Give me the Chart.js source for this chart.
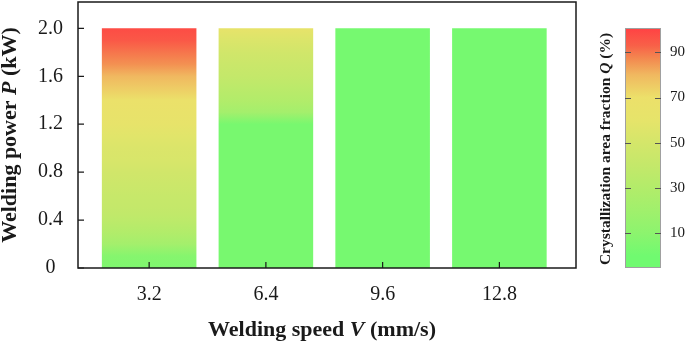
<!DOCTYPE html>
<html>
<head>
<meta charset="utf-8">
<script src="https://cdn.jsdelivr.net/npm/chart.js@4.4.1/dist/chart.umd.min.js"></script>
<style>
  html, body { margin: 0; padding: 0; background: #fff; }
  #wrap { position: relative; width: 685px; height: 341px; }
  #main { position: absolute; left: 0; top: 0; width: 590px; height: 341px; }
  #bar { position: absolute; left: 596px; top: 0; width: 89px; height: 341px; }
</style>
</head>
<body>
<div id="wrap">
  <div id="main"><canvas id="mainChart"></canvas></div>
  <div id="bar"><canvas id="barChart"></canvas></div>
</div>
<script>
// welding speed (mm/s) and top of each bar (kW)
const speeds = [3.2, 6.4, 9.6, 12.8];
const powerTop = [2.0, 2.0, 2.0, 2.0];

// crystallization fraction Q (%), at these powers
const powerLevels = [0, 0.1, 0.2, 0.3, 0.4, 0.5, 0.6, 0.7, 0.8, 0.9, 1.0,
                     1.1, 1.2, 1.3, 1.4, 1.5, 1.6, 1.7, 1.8, 1.9, 2.0];
const qAt3_2  = [5, 8, 22, 30, 36, 40, 42, 45, 48, 52, 54, 57, 62, 65, 68, 75, 80, 86, 90, 95, 98];
const qAt6_4  = [3, 3, 3, 3, 3, 3, 3, 3, 3, 3, 3, 3, 3, 22, 30, 35, 40, 44, 48, 54, 62];
const qAt9_6  = [2, 2, 2, 2, 2, 2, 2, 2, 2, 2, 2, 2, 2, 2, 2, 2, 2, 2, 2, 2, 2];
const qAt12_8 = [2, 2, 2, 2, 2, 2, 2, 2, 2, 2, 2, 2, 2, 2, 2, 2, 2, 2, 2, 2, 2];
const qProfiles = [qAt3_2, qAt6_4, qAt9_6, qAt12_8];

const powerTicks = [0, 0.4, 0.8, 1.2, 1.6, 2.0];
const qTicks = [10, 30, 50, 70, 90];
const qRange = [-5.3, 100.7];

// colour map green -> yellow -> red
const cmapQ = [0, 10, 20, 30, 40, 50, 60, 70, 80, 87, 93, 100];
const cmapRGB = [
  [112, 250, 112], [140, 244, 110], [160, 240, 108], [178, 236, 106],
  [196, 232, 106], [212, 230, 106], [230, 228, 106], [236, 224, 106],
  [240, 184, 96], [243, 138, 80], [248, 96, 72], [255, 68, 68]
];

const SERIF = '"Liberation Serif", "Times New Roman", serif';
const INK = '#1a1a1a';

function qColor(q) {
  if (q <= cmapQ[0]) return 'rgb(' + cmapRGB[0].join(',') + ')';
  for (let i = 1; i < cmapQ.length; i++) {
    if (q <= cmapQ[i]) {
      const t = (q - cmapQ[i - 1]) / (cmapQ[i] - cmapQ[i - 1]);
      const a = cmapRGB[i - 1], b = cmapRGB[i];
      return 'rgb(' + a.map((v, k) => Math.round(v + (b[k] - v) * t)).join(',') + ')';
    }
  }
  return 'rgb(' + cmapRGB[cmapRGB.length - 1].join(',') + ')';
}

function drawRich(ctx, parts, x, y, angle, size, baseline) {
  ctx.save();
  ctx.translate(x, y);
  ctx.rotate(angle);
  ctx.textBaseline = baseline;
  ctx.textAlign = 'left';
  ctx.fillStyle = INK;
  const fonts = parts.map(p => (p.italic ? 'italic ' : '') + 'bold ' + size + 'px ' + SERIF);
  let total = 0;
  const widths = parts.map((p, i) => {
    ctx.font = fonts[i];
    const w = ctx.measureText(p.text).width;
    total += w;
    return w;
  });
  let cx = -total / 2;
  parts.forEach((p, i) => {
    ctx.font = fonts[i];
    ctx.fillText(p.text, cx, 0);
    cx += widths[i];
  });
  ctx.restore();
}

function barGradient(c) {
  const chart = c.chart;
  if (!chart.chartArea || c.dataIndex === undefined) return qColor(0);
  const y = chart.scales.y;
  const levels = qProfiles[c.dataIndex];
  const yBottom = y.getPixelForValue(powerLevels[0]);
  const yTop = y.getPixelForValue(powerTop[c.dataIndex]);
  const g = chart.ctx.createLinearGradient(0, yBottom, 0, yTop);
  powerLevels.forEach((p, k) => {
    const off = (yBottom - y.getPixelForValue(p)) / (yBottom - yTop);
    g.addColorStop(Math.min(1, Math.max(0, off)), qColor(levels[k]));
  });
  return g;
}

function colorbarGradient(c) {
  const chart = c.chart;
  if (!chart.chartArea) return qColor(0);
  const y = chart.scales.y;
  const y0 = y.getPixelForValue(qRange[0]);
  const y1 = y.getPixelForValue(qRange[1]);
  const g = chart.ctx.createLinearGradient(0, y0, 0, y1);
  g.addColorStop(0, qColor(qRange[0]));
  cmapQ.forEach(q => {
    const off = (y0 - y.getPixelForValue(q)) / (y0 - y1);
    g.addColorStop(Math.min(1, Math.max(0, off)), qColor(q));
  });
  g.addColorStop(1, qColor(qRange[1]));
  return g;
}

const framePlugin = {
  id: 'frame',
  afterDraw(chart) {
    const { ctx, chartArea: a, scales } = chart;
    ctx.save();
    ctx.strokeStyle = INK;
    ctx.lineWidth = 1.5;
    ctx.strokeRect(a.left, a.top, a.right - a.left, a.bottom - a.top);
    ctx.lineWidth = 1.2;
    ctx.beginPath();
    scales.x.ticks.forEach(t => {
      const px = scales.x.getPixelForValue(t.value);
      ctx.moveTo(px, a.bottom);
      ctx.lineTo(px, a.bottom - 6);
    });
    scales.y.ticks.forEach(t => {
      const py = scales.y.getPixelForValue(t.value);
      ctx.moveTo(a.left, py);
      ctx.lineTo(a.left + 6, py);
    });
    ctx.stroke();
    ctx.restore();

    drawRich(ctx, [{ text: 'Welding power ' }, { text: 'P', italic: true }, { text: ' (kW)' }],
      10, (a.top + a.bottom) / 2, -Math.PI / 2, 22, 'middle');
    drawRich(ctx, [{ text: 'Welding speed ' }, { text: 'V', italic: true }, { text: ' (mm/s)' }],
      (a.left + a.right) / 2 - 5, 336, 0, 22, 'alphabetic');
  }
};

const colorbarPlugin = {
  id: 'colorbarFrame',
  afterDraw(chart) {
    const { ctx, chartArea: a, scales } = chart;
    ctx.save();
    ctx.strokeStyle = '#a0a0a0';
    ctx.lineWidth = 1;
    ctx.strokeRect(a.left + 0.5, a.top + 0.5, a.right - a.left - 1, a.bottom - a.top - 1);
    ctx.strokeStyle = '#555';
    ctx.beginPath();
    scales.y.ticks.forEach(t => {
      const py = Math.round(scales.y.getPixelForValue(t.value)) + 0.5;
      ctx.moveTo(a.left, py);
      ctx.lineTo(a.left + 6, py);
      ctx.moveTo(a.right, py);
      ctx.lineTo(a.right - 6, py);
    });
    ctx.stroke();
    ctx.restore();

    drawRich(ctx, [{ text: 'Crystallization area fraction ' }, { text: 'Q', italic: true }, { text: ' (%)' }],
      10, 149, -Math.PI / 2, 15.5, 'middle');
  }
};

// drop the extra room Chart.js keeps for half tick labels at the ends
function noEndPadding(s) {
  s.paddingTop = 0;
  s.paddingBottom = 0;
  s.paddingLeft = 0;
  s.paddingRight = 0;
}

Chart.defaults.font.family = SERIF;
Chart.defaults.color = INK;

new Chart(document.getElementById('mainChart'), {
  type: 'bar',
  data: {
    datasets: [{
      data: speeds.map((v, i) => ({ x: v, y: powerTop[i] })),
      backgroundColor: barGradient,
      borderWidth: 0,
      barPercentage: 0.81,
      categoryPercentage: 1
    }]
  },
  options: {
    responsive: true,
    maintainAspectRatio: false,
    animation: false,
    layout: { padding: { top: 2, right: 14, left: 0, bottom: 0 } },
    plugins: { legend: { display: false }, tooltip: { enabled: false } },
    scales: {
      x: {
        type: 'linear',
        min: 1.25,
        max: 14.9,
        offset: false,
        grid: { display: false, drawTicks: false },
        border: { display: false },
        afterBuildTicks: s => { s.ticks = speeds.map(v => ({ value: v })); },
        afterFit: s => { s.height = 73; noEndPadding(s); },
        ticks: { font: { size: 20 }, padding: 15, maxRotation: 0, callback: v => v.toFixed(1) }
      },
      y: {
        min: 0,
        max: 2.22,
        grid: { display: false, drawTicks: false },
        border: { display: false },
        afterBuildTicks: s => { s.ticks = powerTicks.map(v => ({ value: v })); },
        afterFit: s => { s.width = 78; noEndPadding(s); },
        ticks: { font: { size: 20 }, padding: 15, crossAlign: 'center',
                 callback: v => v === 0 ? '0' : v.toFixed(1) }
      }
    }
  },
  plugins: [framePlugin]
});

new Chart(document.getElementById('barChart'), {
  type: 'bar',
  data: {
    labels: ['Q'],
    datasets: [{
      data: [qRange],
      backgroundColor: colorbarGradient,
      borderWidth: 0,
      barPercentage: 1,
      categoryPercentage: 1
    }]
  },
  options: {
    responsive: true,
    maintainAspectRatio: false,
    animation: false,
    layout: { padding: { top: 28, bottom: 73, left: 29, right: 0 } },
    plugins: { legend: { display: false }, tooltip: { enabled: false } },
    scales: {
      x: { display: false },
      y: {
        position: 'right',
        min: qRange[0],
        max: qRange[1],
        grid: { display: false, drawTicks: false },
        border: { display: false },
        afterBuildTicks: s => { s.ticks = qTicks.map(v => ({ value: v })); },
        afterFit: s => { s.width = 24; noEndPadding(s); },
        ticks: { font: { size: 15 }, padding: 9 }
      }
    }
  },
  plugins: [colorbarPlugin]
});
</script>
</body>
</html>
